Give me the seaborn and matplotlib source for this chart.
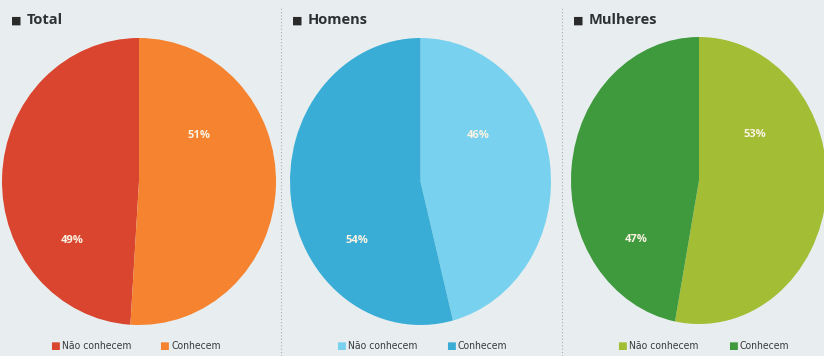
import matplotlib
matplotlib.use("Agg")
import matplotlib.pyplot as plt
import seaborn as sns

sns.set_theme(style="white")
plt.rcParams['font.family'] = ['Open Sans', 'DejaVu Sans']

# Data
groups = ["Total", "Homens", "Mulheres"]
categories = ["Não conhecem", "Conhecem"]
total_vals = [49, 51]
homens_vals = [46, 54]
mulheres_vals = [53, 47]
values = [total_vals, homens_vals, mulheres_vals]
colors = [["#d9452f", "#f5832f"],
          ["#78d2ef", "#3aadd6"],
          ["#a3bd35", "#3f9a3e"]]
# Não conhecem on left (counter-clockwise) for Total, on right for others
counterclock = [True, False, False]

W, H = 824, 356
BG = "#e8eef0"
fig = plt.figure(figsize=(W / 100, H / 100), dpi=100, facecolor=BG)

# pixel boxes (left, top, width, height) for the pies
boxes = [(2, 38, 274, 287), (290, 38, 261, 287), (571, 37, 256, 287)]
panel_x = [0, 281, 562]

for i, g in enumerate(groups):
    l, t, w, h = boxes[i]
    ax = fig.add_axes([l / W, 1 - (t + h) / H, w / W, h / H])
    ax.set_facecolor("none")
    wedges, _ = ax.pie(values[i], colors=colors[i], startangle=90,
                       counterclock=counterclock[i],
                       wedgeprops=dict(linewidth=0))
    ax.set_aspect("auto")
    ax.set_xlim(-1, 1)
    ax.set_ylim(-1, 1)
    ax.axis("off")
    # labels: right slice upper right, left slice lower left
    if counterclock[i]:
        right_v, left_v = values[i][1], values[i][0]
    else:
        right_v, left_v = values[i][0], values[i][1]
    ax.text(0.44, 0.32, f"{right_v}%", ha="center", va="center",
            color="#fbf3e2", fontsize=8, fontweight="bold")
    ax.text(-0.49, -0.41, f"{left_v}%", ha="center", va="center",
            color="#fbf3e2", fontsize=8, fontweight="bold")

    # title
    px = panel_x[i]
    fig.text((px + 11) / W, 1 - 21 / H, "■", ha="left", va="center",
             fontsize=8, color="#2a2a2a", family=["DejaVu Sans"])
    fig.text((px + 27) / W, 1 - 20 / H, g, ha="left", va="center",
             fontsize=10.5, fontweight="bold", color="#2e3134")

    # legend
    leg_x = [[52, 161], [338, 448], [619, 730]][i]
    for j, cat in enumerate(categories):
        fig.text((leg_x[j] - 2) / W, 1 - 346 / H, "■", ha="left", va="center",
                 fontsize=7.5, color=colors[i][j], family=["DejaVu Sans"])
        fig.text((leg_x[j] + 10) / W, 1 - 346 / H, cat, ha="left", va="center",
                 fontsize=7.5, color="#3a3a3a", fontstretch="condensed",
                 family=["DejaVu Sans"])

# dotted separators
for x in [281, 562]:
    fig.add_artist(plt.Line2D([x / W, x / W], [0, 1 - 8 / H],
                              transform=fig.transFigure, color="#a8aeb2",
                              linestyle=(0, (1, 2)), linewidth=0.8))

fig.savefig("out.png", dpi=100, facecolor=BG)
